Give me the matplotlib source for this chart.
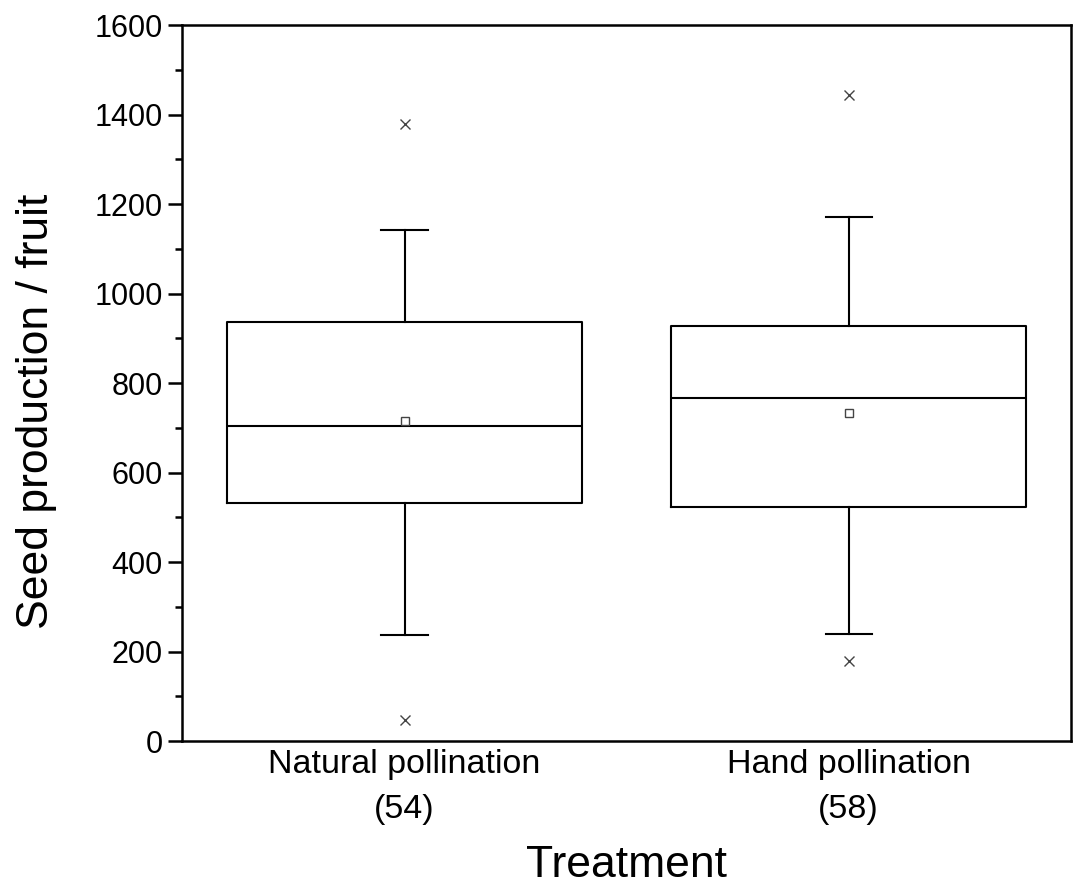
import matplotlib
matplotlib.use("Agg")
import matplotlib.pyplot as plt
from matplotlib.ticker import MultipleLocator

plt.rcParams['font.family'] = ['Liberation Sans', 'DejaVu Sans']

# Summary statistics per treatment
treatments = ["Natural pollination", "Hand pollination"]
sample_sizes = [54, 58]
whisker_low = [237, 240]
q1 = [532, 523]
median = [703, 766]
q3 = [937, 927]
whisker_high = [1143, 1171]
means = [715, 733]
outliers = [[1379, 48], [1444, 178]]

stats = []
for i, name in enumerate(treatments):
    stats.append(dict(label=name, whislo=whisker_low[i], q1=q1[i], med=median[i],
                      q3=q3[i], whishi=whisker_high[i], mean=means[i],
                      fliers=outliers[i]))

fig = plt.figure(figsize=(10.73, 8.88), dpi=100)
ax = fig.add_axes([0.170, 0.1655, 0.828, 0.8063])

lw = 1.5
ax.bxp(stats, positions=[1, 2], widths=0.8, capwidths=0.104,
       showmeans=True, showfliers=True,
       boxprops=dict(color='black', linewidth=lw),
       whiskerprops=dict(color='black', linewidth=lw),
       capprops=dict(color='black', linewidth=lw),
       medianprops=dict(color='black', linewidth=lw),
       meanprops=dict(marker='s', markerfacecolor='white', markeredgecolor='#444444',
                      markersize=6, markeredgewidth=1.0),
       flierprops=dict(marker='x', markeredgecolor='#444444', markersize=7,
                       markeredgewidth=1.0))

ax.set_xlim(0.5, 2.5)
ax.set_ylim(0, 1600)
ax.yaxis.set_major_locator(MultipleLocator(200))
ax.yaxis.set_minor_locator(MultipleLocator(100))
ax.set_xticks([1, 2])
ax.set_xticklabels([f"{t}\n({n})" for t, n in zip(treatments, sample_sizes)],
                   linespacing=1.55)

for s in ax.spines.values():
    s.set_linewidth(1.8)

ax.tick_params(axis='y', which='major', direction='out', length=10, width=1.8,
               labelsize=22, pad=4)
ax.tick_params(axis='y', which='minor', direction='out', length=5, width=1.8)
ax.tick_params(axis='x', which='major', length=0, labelsize=24.5, pad=6)

ax.set_ylabel("Seed production / fruit", fontsize=32, labelpad=27)
ax.yaxis.label.set_y(0.46)
ax.set_xlabel("Treatment", fontsize=32, labelpad=15)

fig.savefig("out.png", dpi=100)
